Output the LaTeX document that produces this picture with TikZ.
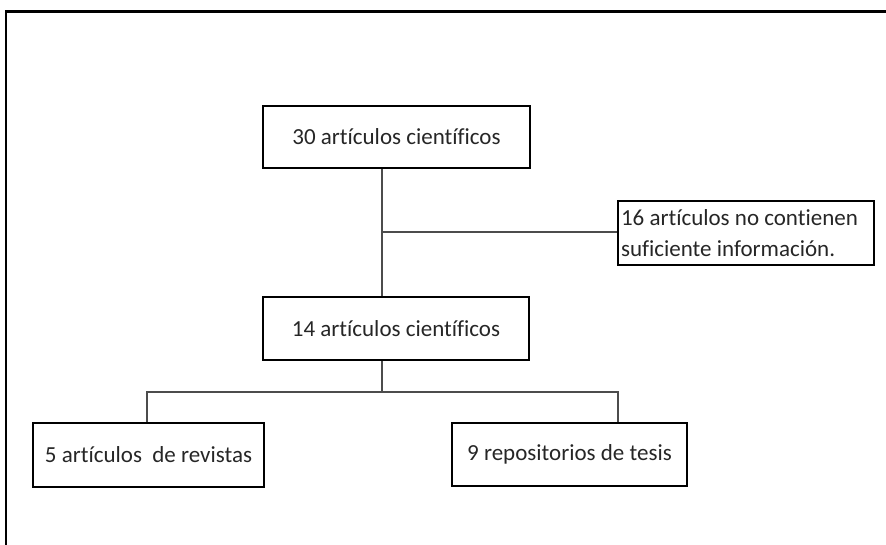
\documentclass[tikz,border=0pt]{standalone}
\usepackage{fontspec}
\setmainfont{Carlito}[Ligatures={NoCommon,NoRequired,NoContextual}]
\begin{document}
\begin{tikzpicture}[x=1pt,y=-1pt,
  boxnode/.style={draw=black, line width=2pt, minimum width=#1, inner sep=0pt, align=center, font=\fontsize{23}{31}\selectfont, text=black!85},
  conn/.style={draw=black!70, line width=1.3pt},
  frame/.style={draw=black, line width=2.4pt}]
\useasboundingbox (0,0) rectangle (886,544);
\draw[frame] (6,546) -- (6,11.5) -- (888,11.5);
\node[boxnode=267pt, minimum height=62pt] (top) at (396.5,137) {30 artículos científicos};
\node[boxnode=266pt, minimum height=63pt] (mid) at (396,328.5) {14 artículos científicos};
\node[boxnode=231pt, minimum height=64pt] (bl) at (148.5,455) {5 artículos\ \ de revistas};
\node[boxnode=235pt, minimum height=63pt] (br) at (569.5,454.5) {9 repositorios de tesis};
\node[draw=black, line width=2pt, minimum width=256pt, minimum height=64pt, inner sep=3pt, align=flush left, anchor=west, font=\fontsize{23}{31}\selectfont, text=black!85, text width=250pt] (rt) at (617,233) {16 artículos no contienen\\suficiente información.};
\coordinate (vx) at (382,232);
\coordinate (j1) at (382,392);
\coordinate (lb) at (147,392);
\coordinate (rb) at (618,392);
\draw[conn] (top.south -| vx) -- (mid.north -| vx);
\draw[conn] (vx) -- (rt.west |- vx);
\draw[conn] (mid.south -| j1) -- (j1);
\draw[conn] (bl.north -| lb) -- (lb) -- (rb) -- (br.north -| rb);
\end{tikzpicture}
\end{document}
